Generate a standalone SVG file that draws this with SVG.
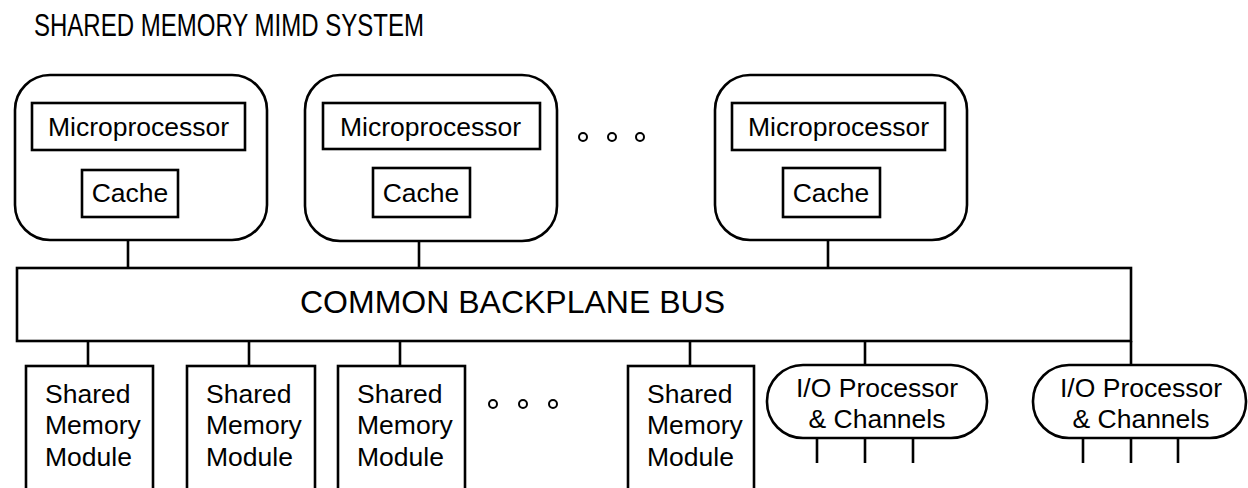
<svg xmlns="http://www.w3.org/2000/svg" width="1248" height="488" viewBox="0 0 1248 488">
  <style>
    .box { fill: #fff; stroke: #000; stroke-width: 2.6; }
    .wire { fill: none; stroke: #000; stroke-width: 2.6; }
    .dot { fill: #fff; stroke: #000; stroke-width: 2; }
    text { font-family: "Liberation Sans", Arial, Helvetica, sans-serif; fill: #000; }
    .lbl { font-size: 26.5px; }
    .mid { text-anchor: middle; }
  </style>
  <rect width="1248" height="488" fill="#fff"/>

  <text id="title" x="34" y="36" font-size="32" textLength="390" lengthAdjust="spacingAndGlyphs">SHARED MEMORY MIMD SYSTEM</text>

  <!-- connectors -->
  <g id="connectors">
    <!-- processor units to bus -->
    <path class="wire" d="M128 150 V170 M128 217 V268"/>
    <path class="wire" d="M419 148 V168 M419 217 V268"/>
    <path class="wire" d="M828 150 V168 M828 217 V268"/>
    <!-- bus to memory modules and I/O -->
    <path class="wire" d="M88 341 V366 M249 341 V366 M400 341 V366 M690 341 V366 M865 341 V365 M1131 341 V365"/>
    <!-- I/O channels -->
    <path class="wire" d="M817 438 V463 M865 438 V463 M913 438 V463"/>
    <path class="wire" d="M1083 438 V463 M1131 438 V463 M1178 438 V463"/>
  </g>

  <!-- processor node 1 -->
  <g id="proc1">
    <rect class="box" x="15" y="75" width="252" height="165" rx="35" ry="35"/>
    <rect class="box" x="32" y="103" width="213" height="47"/>
    <text class="lbl" x="48" y="136">Microprocessor</text>
    <rect class="box" x="82" y="170" width="96" height="47"/>
    <text class="lbl mid" x="130" y="202">Cache</text>
  </g>

  <!-- processor node 2 -->
  <g id="proc2">
    <rect class="box" x="305" y="75" width="252" height="166" rx="35" ry="35"/>
    <rect class="box" x="323" y="103" width="217" height="46"/>
    <text class="lbl" x="340" y="136">Microprocessor</text>
    <rect class="box" x="373" y="168" width="97" height="49"/>
    <text class="lbl mid" x="421" y="202">Cache</text>
  </g>

  <g id="proc-more">
    <circle class="dot" cx="583" cy="137" r="4"/>
    <circle class="dot" cx="612" cy="137" r="4"/>
    <circle class="dot" cx="640" cy="137" r="4"/>
  </g>

  <!-- processor node 3 -->
  <g id="proc3">
    <rect class="box" x="715" y="75" width="252" height="165" rx="35" ry="35"/>
    <rect class="box" x="732" y="103" width="213" height="47"/>
    <text class="lbl" x="748" y="136">Microprocessor</text>
    <rect class="box" x="783" y="168" width="97" height="49"/>
    <text class="lbl mid" x="831" y="202">Cache</text>
  </g>

  <!-- backplane bus -->
  <g id="bus">
    <rect class="box" x="17" y="268" width="1114" height="73"/>
    <text x="300" y="313" font-size="32">COMMON BACKPLANE BUS</text>
  </g>

  <!-- shared memory modules -->
  <g id="mem1">
    <rect class="box" x="26" y="366" width="127" height="140"/>
    <text class="lbl" x="45"><tspan x="45" y="403">Shared</tspan><tspan x="45" y="434">Memory</tspan><tspan x="45" y="466">Module</tspan></text>
  </g>
  <g id="mem2">
    <rect class="box" x="187" y="366" width="128" height="140"/>
    <text class="lbl" x="206"><tspan x="206" y="403">Shared</tspan><tspan x="206" y="434">Memory</tspan><tspan x="206" y="466">Module</tspan></text>
  </g>
  <g id="mem3">
    <rect class="box" x="338" y="366" width="127" height="140"/>
    <text class="lbl" x="357"><tspan x="357" y="403">Shared</tspan><tspan x="357" y="434">Memory</tspan><tspan x="357" y="466">Module</tspan></text>
  </g>
  <g id="mem-more">
    <circle class="dot" cx="493" cy="404" r="4"/>
    <circle class="dot" cx="523" cy="404" r="4"/>
    <circle class="dot" cx="553" cy="404" r="4"/>
  </g>
  <g id="mem4">
    <rect class="box" x="628" y="366" width="126" height="140"/>
    <text class="lbl" x="647"><tspan x="647" y="403">Shared</tspan><tspan x="647" y="434">Memory</tspan><tspan x="647" y="466">Module</tspan></text>
  </g>

  <!-- I/O processors -->
  <g id="io1">
    <rect class="box" x="767" y="365" width="220" height="73" rx="36" ry="36"/>
    <text class="lbl mid" x="877"><tspan x="877" y="397">I/O Processor</tspan><tspan x="877" y="428">&amp; Channels</tspan></text>
  </g>
  <g id="io2">
    <rect class="box" x="1033" y="365" width="213" height="73" rx="36" ry="36"/>
    <text class="lbl mid" x="1141"><tspan x="1141" y="397">I/O Processor</tspan><tspan x="1141" y="428">&amp; Channels</tspan></text>
  </g>
</svg>
